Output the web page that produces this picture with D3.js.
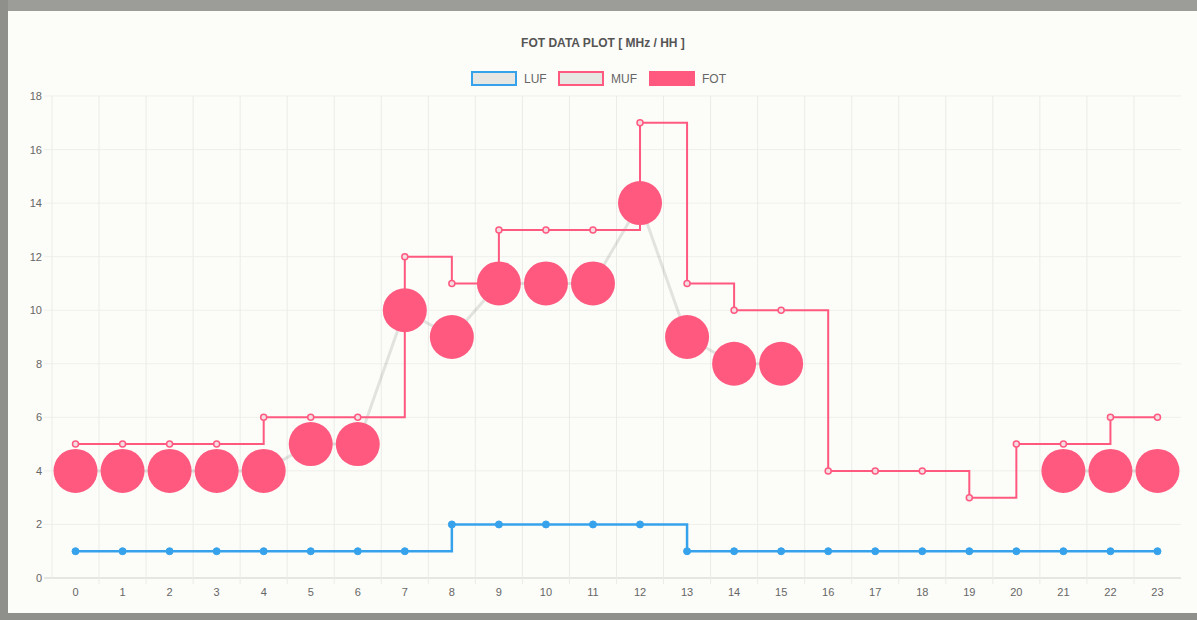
<!DOCTYPE html>
<html>
<head>
<meta charset="utf-8">
<script src="https://cdn.jsdelivr.net/npm/d3@7"></script>
<style>
  html, body { margin: 0; padding: 0; background: #fcfcf8; }
  svg { display: block; }
</style>
</head>
<body>
<svg id="chart" width="1197" height="620"></svg>
<script>
const hours = d3.range(0, 24).map(String);
const lufValues = [1,1,1,1,1,1,1,1,2,2,2,2,2,1,1,1,1,1,1,1,1,1,1,1];
const mufValues = [5,5,5,5,6,6,6,12,11,13,13,13,17,11,10,10,4,4,4,3,5,5,6,6];
const fotValues = [4,4,4,4,4,5,5,10,9,11,11,11,14,9,8,8,null,null,null,null,null,4,4,4];
const yTicks = [0,2,4,6,8,10,12,14,16,18];
const titleText = "FOT DATA PLOT [ MHz / HH ]";
const legendItems = [
  {label: "LUF", fill: "#e6e6e2", stroke: "rgb(54,162,235)"},
  {label: "MUF", fill: "#e6e6e2", stroke: "rgb(255,89,128)"},
  {label: "FOT", fill: "rgb(255,89,128)", stroke: "rgb(255,89,128)"}
];

(function () {
const W = 1197, H = 620;
const svg = d3.select("#chart");
const pink = "rgb(255,89,128)";
const blue = "rgb(54,162,235)";
const font = "Liberation Sans, Arial, sans-serif";

// frame
svg.append("rect").attr("x",0).attr("y",0).attr("width",W).attr("height",H).attr("fill","#fcfcf8");
svg.append("rect").attr("x",0).attr("y",0).attr("width",W).attr("height",11).attr("fill","#9c9c98");
svg.append("rect").attr("x",0).attr("y",0).attr("width",8).attr("height",H).attr("fill","#8f8f8c");
svg.append("rect").attr("x",0).attr("y",613).attr("width",W).attr("height",7).attr("fill","#8f8f8c");

const pL = 52, pR = 1181, pT = 96, pB = 578;
const x = d3.scaleBand().domain(hours).range([pL, pR]);
const cx = d => x(d) + x.bandwidth()/2;
const y = d3.scaleLinear().domain([0,18]).range([pB, pT]);

// grid
const g = svg.append("g");
g.selectAll("line.h").data(yTicks).join("line")
  .attr("x1", pL - 8).attr("x2", pR)
  .attr("y1", d => y(d)).attr("y2", d => y(d))
  .attr("stroke", d => d === 0 ? "#cfcfcb" : "#efefeb").attr("stroke-width", 1);
g.selectAll("line.v").data(hours.slice(1)).join("line")
  .attr("x1", d => x(d)).attr("x2", d => x(d))
  .attr("y1", pT).attr("y2", pB + 6)
  .attr("stroke", "#ebebe7").attr("stroke-width", 1);
g.append("line").attr("x1", pL).attr("x2", pL).attr("y1", pT).attr("y2", pB)
  .attr("stroke", "#ebebe7");

// axes labels
const yAxis = d3.axisLeft(y).tickValues(yTicks).tickSize(0).tickPadding(10);
const ya = svg.append("g").attr("transform", `translate(${pL},0)`).call(yAxis);
ya.select(".domain").remove();
ya.selectAll("text").attr("font-family", font).attr("font-size",11).attr("fill","#666");

const xAxis = d3.axisBottom(x).tickSize(0).tickPadding(10);
const xa = svg.append("g").attr("transform", `translate(0,${pB})`).call(xAxis);
xa.select(".domain").remove();
xa.selectAll("text").attr("font-family", font).attr("font-size",11).attr("fill","#666");

// title
svg.append("text").attr("x", 603).attr("y", 47).attr("text-anchor","middle")
  .attr("font-family", font).attr("font-size",12).attr("font-weight","bold")
  .attr("fill","#555").text(titleText);

// legend
const lg = svg.append("g");
const legX = [472, 559, 650];
legendItems.forEach((it, i) => {
  lg.append("rect").attr("x", legX[i]).attr("y", 72).attr("width", 44).attr("height", 13)
    .attr("fill", it.fill).attr("stroke", it.stroke).attr("stroke-width", 2);
  lg.append("text").attr("x", legX[i] + 52).attr("y", 83)
    .attr("font-family", font).attr("font-size",12).attr("fill","#666").text(it.label);
});

// FOT gray line
const fotData = hours.map((h,i) => ({h, v: fotValues[i]}));
svg.append("path").datum(fotData)
  .attr("d", d3.line().defined(d => d.v !== null).x(d => cx(d.h)).y(d => y(d.v)))
  .attr("fill","none").attr("stroke","rgba(0,0,0,0.1)").attr("stroke-width",3);

// MUF stepped line
const mufData = hours.map((h,i) => ({h, v: mufValues[i]}));
svg.append("path").datum(mufData)
  .attr("d", d3.line().curve(d3.curveStepAfter).x(d => cx(d.h)).y(d => y(d.v)))
  .attr("fill","none").attr("stroke", pink).attr("stroke-width",2);

// FOT circles
svg.append("g").selectAll("circle").data(fotData.filter(d => d.v !== null)).join("circle")
  .attr("cx", d => cx(d.h)).attr("cy", d => y(d.v)).attr("r", 22)
  .attr("fill", pink);

// MUF markers
svg.append("g").selectAll("circle").data(mufData).join("circle")
  .attr("cx", d => cx(d.h)).attr("cy", d => y(d.v)).attr("r", 3)
  .attr("fill", "#f3dde2").attr("stroke", pink).attr("stroke-width", 1.5);

// LUF stepped line
const lufData = hours.map((h,i) => ({h, v: lufValues[i]}));
svg.append("path").datum(lufData)
  .attr("d", d3.line().curve(d3.curveStepAfter).x(d => cx(d.h)).y(d => y(d.v)))
  .attr("fill","none").attr("stroke", blue).attr("stroke-width",2.5);
svg.append("g").selectAll("circle").data(lufData).join("circle")
  .attr("cx", d => cx(d.h)).attr("cy", d => y(d.v)).attr("r", 3.5)
  .attr("fill", blue).attr("stroke", blue).attr("stroke-width", 1);
})();
</script>
</body>
</html>
